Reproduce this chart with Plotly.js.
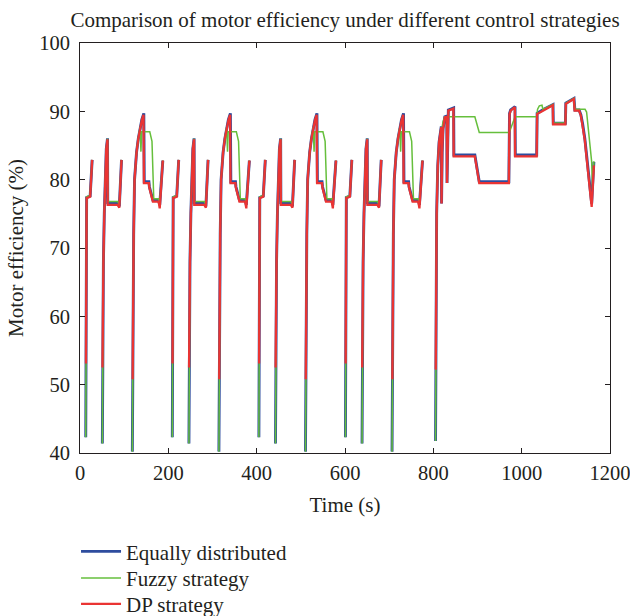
<!DOCTYPE html>
<html>
<head>
<meta charset="utf-8">
<script src="https://cdn.plot.ly/plotly-3.0.1.min.js"></script>
<style>html,body{margin:0;padding:0;background:#fff;}#chart{width:630px;height:616px;}</style>
</head>
<body>
<div id="chart"></div>
<script>
// Time (s) and motor efficiency (%); null = gap (idle / no traction)
const tEqual = [
  13, 14, 15, 23, 25, 27.5, null,
  50.6, 51, 53, 55, 57, 59.5, 62.3, 62.8, 85.5, 89, 94, null,
  118.5, 119.5, 120.5, 121.5, 123.5, 128, 132, 136, 140, 144.5, 145.5, 156, 157, 165, 178, 180.5, 187.5, null,
  209, 210, 211, 219, 221, 223.5, null,
  246.6, 247, 249, 251, 253, 255.5, 258.3, 258.8, 281.5, 285, 290, null,
  314.5, 315.5, 316.5, 317.5, 319.5, 324, 328, 332, 336, 340.5, 341.5, 352, 353, 361, 374, 376.5, 383.5, null,
  405, 406, 407, 415, 417, 419.5, null,
  442.6, 443, 445, 447, 449, 451.5, 454.3, 454.8, 477.5, 481, 486, null,
  510.5, 511.5, 512.5, 513.5, 515.5, 520, 524, 528, 532, 536.5, 537.5, 548, 549, 557, 570, 572.5, 579.5, null,
  601, 602, 603, 611, 613, 615.5, null,
  638.6, 639, 641, 643, 645, 647.5, 650.3, 650.8, 673.5, 677, 682, null,
  706.5, 707.5, 708.5, 709.5, 711.5, 716, 720, 724, 728, 732.5, 733.5, 744, 745, 753, 766, 768.5, 775.5, null,
  805, 806, 807.5, 810, 813, 818, 818.6, 820, 822, 826, 830.5, 831, 832.5, 834, 846, 846.6, 894, 904, 971, 972.5,
  975, 985, 985.6, 1034, 1035, 1050, 1071, 1071.6, 1099, 1100, 1118.5, 1120.5, 1130, 1134, 1138, 1143, 1148, 1153, 1158.5, 1163.5
];
const effEqual = [
  42.3, 65, 77.4, 77.6, 80.2, 82.9, null,
  41.4, 55, 68, 75, 80, 84.5, 86.05, 76.6, 76.6, 76.1, 82.9, null,
  40.2, 55, 63, 72, 80, 84, 86, 87.7, 88.8, 89.7, 79.7, 79.7, 79.0, 77.0, 77.0, 76.3, 82.8, null,
  42.3, 65, 77.4, 77.6, 80.2, 82.9, null,
  41.4, 55, 68, 75, 80, 84.5, 86.05, 76.6, 76.6, 76.1, 82.9, null,
  40.2, 55, 63, 72, 80, 84, 86, 87.7, 88.8, 89.7, 79.7, 79.7, 79.0, 77.0, 77.0, 76.3, 82.8, null,
  42.3, 65, 77.4, 77.6, 80.2, 82.9, null,
  41.4, 55, 68, 75, 80, 84.5, 86.05, 76.6, 76.6, 76.1, 82.9, null,
  40.2, 55, 63, 72, 80, 84, 86, 87.7, 88.8, 89.7, 79.7, 79.7, 79.0, 77.0, 77.0, 76.3, 82.8, null,
  42.3, 65, 77.4, 77.6, 80.2, 82.9, null,
  41.4, 55, 68, 75, 80, 84.5, 86.05, 76.6, 76.6, 76.1, 82.9, null,
  40.2, 55, 63, 72, 80, 84, 86, 87.7, 88.8, 89.7, 79.7, 79.7, 79.0, 77.0, 77.0, 76.3, 82.8, null,
  41.75, 62, 75, 82, 85.5, 87.8, 76.5, 84, 87.5, 89.2, 89.3, 79.5, 87, 90.2, 90.5, 83.6, 83.6, 79.7, 79.7, 89.7,
  90.2, 90.7, 83.6, 83.6, 89.7, 90.3, 91.0, 88.25, 88.25, 91.2, 91.9, 90.2, 90.2, 89.5, 88.2, 86.0, 83.0, 80.0, 76.5, 82.6
];

const tFuzzy = [
  13, 14, 15, 23, 25, 27.5, null,
  50.6, 51, 53, 55, 57, 59.5, 62.3, 62.8, 85.5, 89, 94, null,
  118.5, 119.5, 120.5, 121.5, 123.5, 128, 132, 136, 138, 139.5, 158, 163, 167, 178, 180.5, 187.5, null,
  209, 210, 211, 219, 221, 223.5, null,
  246.6, 247, 249, 251, 253, 255.5, 258.3, 258.8, 281.5, 285, 290, null,
  314.5, 315.5, 316.5, 317.5, 319.5, 324, 328, 332, 334, 335.5, 354, 359, 363, 374, 376.5, 383.5, null,
  405, 406, 407, 415, 417, 419.5, null,
  442.6, 443, 445, 447, 449, 451.5, 454.3, 454.8, 477.5, 481, 486, null,
  510.5, 511.5, 512.5, 513.5, 515.5, 520, 524, 528, 530, 531.5, 550, 555, 559, 570, 572.5, 579.5, null,
  601, 602, 603, 611, 613, 615.5, null,
  638.6, 639, 641, 643, 645, 647.5, 650.3, 650.8, 673.5, 677, 682, null,
  706.5, 707.5, 708.5, 709.5, 711.5, 716, 720, 724, 726, 727.5, 746, 751, 755, 766, 768.5, 775.5, null,
  805, 806, 807.5, 810, 813, 818, 822, 826, 894, 904, 972, 985, 1034, 1036, 1040, 1046, 1048, 1050, 1071, 1071.6,
  1099, 1100, 1118.5, 1120.5, 1143.5, 1147, 1153, 1158.5, 1160.5, 1163.5
];
const effFuzzy = [
  42.3, 65, 77.5, 77.7, 80.2, 82.9, null,
  41.4, 55, 68, 75, 80, 84.5, 86.0, 76.8, 76.8, 76.3, 82.9, null,
  40.2, 55, 63, 72, 80, 84, 86, 87.7, 84.1, 87.0, 87.0, 85.6, 77.2, 77.2, 76.5, 82.8, null,
  42.3, 65, 77.5, 77.7, 80.2, 82.9, null,
  41.4, 55, 68, 75, 80, 84.5, 86.0, 76.8, 76.8, 76.3, 82.9, null,
  40.2, 55, 63, 72, 80, 84, 86, 87.7, 84.1, 87.0, 87.0, 85.6, 77.2, 77.2, 76.5, 82.8, null,
  42.3, 65, 77.5, 77.7, 80.2, 82.9, null,
  41.4, 55, 68, 75, 80, 84.5, 86.0, 76.8, 76.8, 76.3, 82.9, null,
  40.2, 55, 63, 72, 80, 84, 86, 87.7, 84.1, 87.0, 87.0, 85.6, 77.2, 77.2, 76.5, 82.8, null,
  42.3, 65, 77.5, 77.7, 80.2, 82.9, null,
  41.4, 55, 68, 75, 80, 84.5, 86.0, 76.8, 76.8, 76.3, 82.9, null,
  40.2, 55, 63, 72, 80, 84, 86, 87.7, 84.1, 87.0, 87.0, 85.6, 77.2, 77.2, 76.5, 82.8, null,
  41.75, 62, 75, 82, 85.3, 87.0, 88.5, 89.2, 89.2, 86.9, 86.9, 89.2, 89.2, 90.3, 90.8, 90.9, 90.3, 90.35, 91.0, 88.3,
  88.3, 91.2, 91.9, 90.3, 90.3, 89.9, 86.3, 82.6, 78.5, 82.7
];

const tDP = [
  13.5, 14, 15, 23, 25, 27.5, null,
  50.9, 51, 53, 55, 57, 59.5, 62.2, 62.7, 85.5, 89, 94, null,
  119.2, 119.5, 120.5, 121.5, 123.5, 128, 132, 136, 140, 143.8, 144.8, 156, 157, 165, 178, 180.5, 187.5, null,
  209.5, 210, 211, 219, 221, 223.5, null,
  246.9, 247, 249, 251, 253, 255.5, 258.2, 258.7, 281.5, 285, 290, null,
  315.2, 315.5, 316.5, 317.5, 319.5, 324, 328, 332, 336, 339.8, 340.8, 352, 353, 361, 374, 376.5, 383.5, null,
  405.5, 406, 407, 415, 417, 419.5, null,
  442.9, 443, 445, 447, 449, 451.5, 454.2, 454.7, 477.5, 481, 486, null,
  511.2, 511.5, 512.5, 513.5, 515.5, 520, 524, 528, 532, 535.8, 536.8, 548, 549, 557, 570, 572.5, 579.5, null,
  601.5, 602, 603, 611, 613, 615.5, null,
  638.9, 639, 641, 643, 645, 647.5, 650.2, 650.7, 673.5, 677, 682, null,
  707.2, 707.5, 708.5, 709.5, 711.5, 716, 720, 724, 728, 731.8, 732.8, 744, 745, 753, 766, 768.5, 775.5, null,
  805.5, 806, 807.5, 810, 813, 818, 818.6, 820, 822, 826, 830.5, 831, 832.5, 834, 845.5, 846.1, 894, 904, 971, 972.5,
  975, 984.5, 985.1, 1034, 1035, 1050, 1070.5, 1071.1, 1099, 1100, 1118, 1120, 1130, 1134, 1138, 1143, 1148, 1153, 1158.5, 1163.5
];
const effDP = [
  53.1, 65, 77.3, 77.5, 80.2, 82.9, null,
  52.5, 55, 68, 75, 80, 84.5, 85.9, 76.3, 76.3, 75.9, 82.9, null,
  50.8, 55, 63, 72, 80, 84, 86, 87.7, 88.7, 89.5, 79.5, 79.5, 78.8, 76.8, 76.8, 75.8, 82.8, null,
  53.1, 65, 77.3, 77.5, 80.2, 82.9, null,
  52.5, 55, 68, 75, 80, 84.5, 85.9, 76.3, 76.3, 75.9, 82.9, null,
  50.8, 55, 63, 72, 80, 84, 86, 87.7, 88.7, 89.5, 79.5, 79.5, 78.8, 76.8, 76.8, 75.8, 82.8, null,
  53.1, 65, 77.3, 77.5, 80.2, 82.9, null,
  52.5, 55, 68, 75, 80, 84.5, 85.9, 76.3, 76.3, 75.9, 82.9, null,
  50.8, 55, 63, 72, 80, 84, 86, 87.7, 88.7, 89.5, 79.5, 79.5, 78.8, 76.8, 76.8, 75.8, 82.8, null,
  53.1, 65, 77.3, 77.5, 80.2, 82.9, null,
  52.5, 55, 68, 75, 80, 84.5, 85.9, 76.3, 76.3, 75.9, 82.9, null,
  50.8, 55, 63, 72, 80, 84, 86, 87.7, 88.7, 89.5, 79.5, 79.5, 78.8, 76.8, 76.8, 75.8, 82.8, null,
  52.2, 62, 75, 82, 85.5, 87.7, 76.5, 84, 87.4, 89.1, 89.2, 79.5, 87, 90.1, 90.4, 83.4, 83.4, 79.5, 79.5, 89.6,
  90.1, 90.6, 83.4, 83.4, 89.6, 90.2, 90.9, 88.1, 88.1, 91.1, 91.8, 90.1, 90.1, 89.4, 88.0, 85.8, 82.6, 79.5, 76.0, 82.1
];

const seriesNames = ['Equally distributed', 'Fuzzy strategy', 'DP strategy'];
const xTickVals = [0, 200, 400, 600, 800, 1000, 1200];
const yTickVals = [40, 50, 60, 70, 80, 90, 100];

const FONT = '"Liberation Serif", "Times New Roman", serif';
const INK = '#231F20';

const traces = [
  {x: tEqual, y: effEqual, name: seriesNames[0], mode: 'lines', line: {color: '#2E4C9E', width: 2.9}, connectgaps: false, legend: 'legend'},
  {x: tFuzzy, y: effFuzzy, name: seriesNames[1], mode: 'lines', line: {color: '#66BF3C', width: 1.5}, connectgaps: false, legend: 'legend2'},
  {x: tDP, y: effDP, name: seriesNames[2], mode: 'lines', line: {color: '#EA3433', width: 2.3}, connectgaps: false, legend: 'legend3'}
];

const axisCommon = {
  showline: true, mirror: 'ticks', linecolor: INK, linewidth: 1,
  ticks: 'inside', ticklen: 5, tickcolor: INK, tickwidth: 1,
  showgrid: false, zeroline: false, ticklabeloverflow: 'allow',
  tickfont: {family: FONT, size: 20.5, color: INK}
};

function legendAt(yPaper) {
  return {
    x: -0.0075, xanchor: 'left', y: yPaper, yanchor: 'middle',
    orientation: 'v', itemwidth: 40, tracegroupgap: 0,
    font: {family: FONT, size: 21, color: INK}, bgcolor: 'rgba(0,0,0,0)'
  };
}

const layout = {
  width: 630, height: 616,
  margin: {l: 80, r: 20, t: 43, b: 163, autoexpand: false},
  paper_bgcolor: '#fff', plot_bgcolor: '#fff',
  font: {family: FONT, size: 20, color: INK},
  title: {text: 'Comparison of motor efficiency under different control strategies',
          font: {family: FONT, size: 21, color: INK},
          x: 0.5, xref: 'paper', xanchor: 'center', y: 0.968, yref: 'container', yanchor: 'middle'},
  xaxis: Object.assign({}, axisCommon, {
    range: [0, 1200], tickvals: xTickVals, ticklabelstandoff: 1,
    title: {text: 'Time (s)', font: {family: FONT, size: 21, color: INK}, standoff: 14}
  }),
  yaxis: Object.assign({}, axisCommon, {
    range: [40, 100], tickvals: yTickVals, ticklabelstandoff: 5,
    title: {text: 'Motor efficiency (%)', font: {family: FONT, size: 21, color: INK}, standoff: 9}
  }),
  showlegend: true,
  legend: legendAt(-0.2407),
  legend2: legendAt(-0.3056),
  legend3: legendAt(-0.369)
};

Plotly.newPlot('chart', traces, layout, {displayModeBar: false, staticPlot: true});
</script>
</body>
</html>
